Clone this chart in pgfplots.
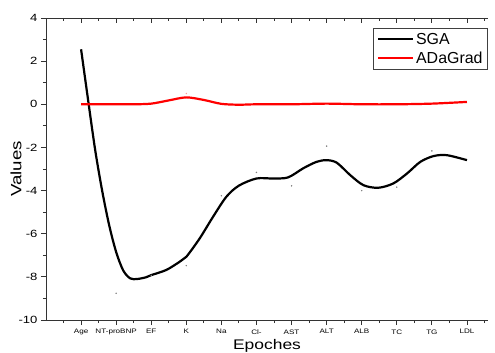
\documentclass[border=0pt]{standalone}
\usepackage{fontspec}
\setmainfont{Liberation Sans}
\newfontfamily\widefont{Liberation Sans}[FakeStretch=1.25]
\usepackage{pgfplots}
\pgfplotsset{compat=1.18}
\begin{document}
\begin{tikzpicture}
\useasboundingbox (-46bp,-33bp) rectangle (449bp,320bp);
\begin{axis}[
  at={(0,0)}, anchor=south west,
  width=442bp, height=302bp, scale only axis,
  xmin=-1, xmax=11.6, ymin=-10, ymax=4,
  axis x line*=bottom, axis y line*=left,
  axis line style={-, line width=0.9bp, black!80},
  xtick={0,...,11},
  xticklabels={Age,NT-proBNP,EF,K,Na,Cl-,AST,ALT,ALB,TC,TG,LDL},
  minor xtick={-0.5,0.5,...,11.5},
  ytick={-10,-8,...,4},
  yticklabels={-10,-8,-6,-4,-2,0,2,4},
  minor ytick={-9,-7,...,3},
  tick align=outside,
  major tick length=5bp, minor tick length=3bp,
  tick style={line width=0.9bp, black!80},
  xticklabel style={font=\widefont\fontsize{6.5}{7}\selectfont, yshift=-1bp},
  yticklabel style={font=\widefont\fontsize{10.5}{12}\selectfont},
  xlabel={Epoches}, ylabel={Values},
  xlabel style={font=\widefont\fontsize{14}{16}\selectfont, at={(axis description cs:0.5,-0.085)}, anchor=center},
  ylabel style={font=\widefont\fontsize{15}{17}\selectfont, at={(axis description cs:-0.068,0.5)}, anchor=center},
  legend style={at={(axis description cs:1,0.967)}, anchor=north east,
    draw=black!75, line width=0.9bp, font=\fontsize{16}{18}\selectfont,
    inner xsep=3bp, inner ysep=2.5bp, row sep=2bp},
  legend cell align=left,
  legend image code/.code={\draw[#1] (0bp,0bp) -- (35bp,0bp);},
]
\addplot[black, line width=2.2bp, smooth] coordinates {
(0,2.55) (0.2,0.2) (0.4,-2.1) (0.6,-4.0) (0.8,-5.6) (1.0,-6.85) (1.2,-7.7)
(1.4,-8.07) (1.6,-8.1) (1.85,-8.02)
(2.0,-7.92) (2.43,-7.68) (2.81,-7.30) (3.0,-7.07) (3.38,-6.22) (3.76,-5.22)
(4.14,-4.29) (4.5,-3.77) (5.0,-3.44) (5.47,-3.44) (5.9,-3.39) (6.33,-2.97)
(6.71,-2.67) (7.0,-2.59) (7.29,-2.71) (7.67,-3.28) (8.05,-3.75) (8.47,-3.87)
(8.9,-3.67) (9.29,-3.21) (9.67,-2.67) (10.05,-2.40) (10.43,-2.36) (11.0,-2.59)
};
\addlegendentry{SGA}
\addplot[red, line width=2.2bp, smooth] coordinates {
(0,0) (1,0) (1.5,0) (2,0.03) (2.5,0.18) (3,0.32) (3.5,0.2) (4,0.02)
(4.5,-0.02) (5,0) (6,0) (7,0.03) (8,0) (9,0) (10,0.03) (11,0.11)
};
\addlegendentry{ADaGrad}
\addplot[only marks, mark=*, mark size=0.5bp, gray, forget plot] coordinates {
(1,-8.76) (2,-7.93) (3,-7.48) (4,-4.24) (5,-3.16) (6,-3.78) (7,-1.94)
(8,-4.0) (9,-3.84) (10,-2.16)
};
\addplot[only marks, mark=*, mark size=0.5bp, red!40, forget plot] coordinates {
(3,0.5)
};
\end{axis}
\begin{axis}[
  at={(0,0)}, anchor=south west,
  width=442bp, height=302bp, scale only axis,
  xmin=-1, xmax=11.6, ymin=-10, ymax=4,
  axis x line*=top, axis y line=none,
  axis line style={-, line width=0.9bp, black!80},
  xtick={0,...,11}, xticklabels={},
  minor xtick={-0.5,0.5,...,11.5},
  tick align=inside,
  major tick length=5.5bp, minor tick length=3bp,
  tick style={line width=0.9bp, black!80},
]
\end{axis}
\end{tikzpicture}
\end{document}
